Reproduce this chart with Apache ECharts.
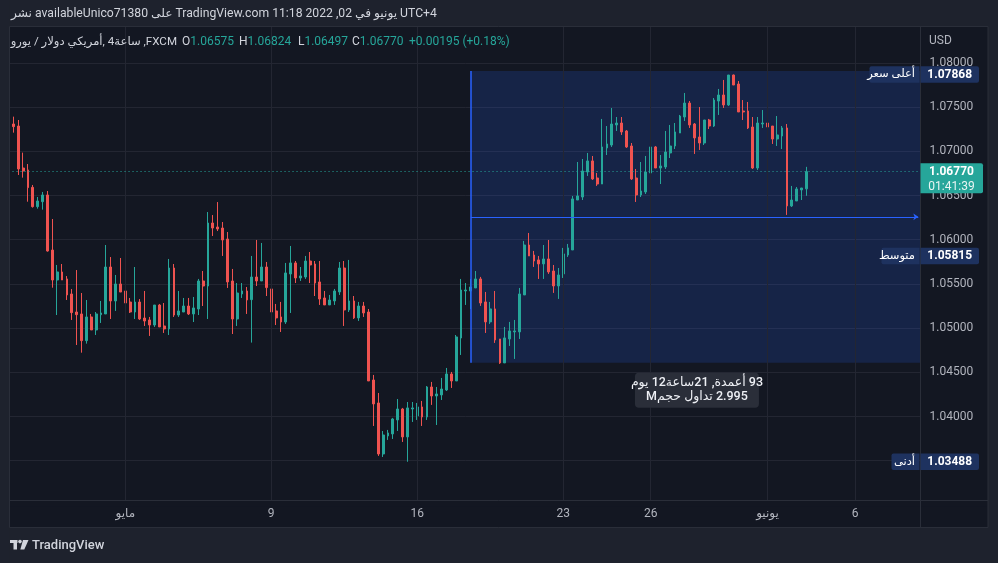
<!DOCTYPE html>
<html><head><meta charset="utf-8">
<script src="https://cdn.jsdelivr.net/npm/echarts@6/dist/echarts.min.js"></script>
<style>html,body{margin:0;padding:0;background:#1e222d}#c{width:998px;height:563px}</style>
</head><body><div id="c"></div><script>
const tradingDays = ['2022-04-26','2022-04-27','2022-04-28','2022-04-29',
 '2022-05-02','2022-05-03','2022-05-04','2022-05-05','2022-05-06',
 '2022-05-09','2022-05-10','2022-05-11','2022-05-12','2022-05-13',
 '2022-05-16','2022-05-17','2022-05-18','2022-05-19','2022-05-20',
 '2022-05-23','2022-05-24','2022-05-25','2022-05-26','2022-05-27',
 '2022-05-30','2022-05-31','2022-06-01','2022-06-02','2022-06-03',
 '2022-06-06','2022-06-07','2022-06-08'];
const sessionHours = ['01:00','05:00','09:00','13:00','17:00','21:00'];
const slotCount = 189;

const opens = [1.07109,1.07309,1.07286,1.06811,1.06789,1.06592,1.06374,1.06430,1.06506,1.05883,1.05544,1.05635,1.05556,1.05386,1.05182,1.05160,1.04858,1.05126,1.04979,1.05152,1.05160,1.05691,1.05307,1.05499,
 1.05420,1.05295,1.05182,1.05295,1.05114,1.05092,1.05035,1.05261,1.05024,1.04990,1.05680,1.05148,1.05182,1.05250,1.05160,1.05216,1.05533,1.05476,1.06189,1.06144,1.06132,1.06008,1.05533,1.05103,1.05386,1.05420,1.05322,1.05578,1.05533,1.05691,
 1.05443,1.05194,1.05126,1.05069,1.05612,1.05737,1.05567,1.05578,1.05759,1.05725,1.05522,1.05341,1.05262,1.05307,1.05409,1.05680,1.05205,1.05307,1.05115,1.05250,1.05182,1.04413,1.04153,1.03576,1.03780,1.03803,1.03961,1.04085,1.03769,1.04085,
 1.04006,1.04108,1.03995,1.04334,1.04232,1.04244,1.04300,1.04481,1.04402,1.04888,1.05420,1.05420,1.05454,1.05556,1.05296,1.05070,1.05217,1.04877,1.04606,1.04877,1.04957,1.04957,1.05375,1.05940,1.05827,1.05771,1.05726,1.05782,1.05646,1.05477,
 1.05613,1.05827,1.05884,1.06449,1.06483,1.06766,1.06891,1.06698,1.06630,1.07038,1.07071,1.07298,1.07320,1.07230,1.07060,1.06698,1.06506,1.06540,1.06755,1.07049,1.06811,1.06823,1.06981,1.07060,1.07207,1.07388,1.07546,1.07309,1.07162,1.07094,
 1.07354,1.07286,1.07569,1.07637,1.07524,1.07863,1.07761,1.07456,1.07456,1.07275,1.06811,1.07309,1.07320,1.07286,1.07139,1.07173,1.07264,1.06382,1.06438,1.06563,1.06575];
const closes = [1.07316,1.07279,1.06800,1.06777,1.06589,1.06374,1.06438,1.06506,1.05872,1.05544,1.05635,1.05544,1.05375,1.05175,1.05152,1.04858,1.05126,1.04979,1.05160,1.05171,1.05691,1.05307,1.05499,1.05408,
 1.05284,1.05182,1.05295,1.05103,1.05080,1.05035,1.05261,1.05013,1.04990,1.05680,1.05148,1.05194,1.05250,1.05160,1.05228,1.05533,1.05476,1.06189,1.06132,1.06121,1.05997,1.05522,1.05103,1.05397,1.05420,1.05318,1.05578,1.05533,1.05691,1.05458,
 1.05182,1.05115,1.05069,1.05624,1.05737,1.05567,1.05590,1.05759,1.05714,1.05510,1.05329,1.05262,1.05318,1.05420,1.05680,1.05205,1.05307,1.05115,1.05250,1.05171,1.04402,1.04142,1.03576,1.03791,1.03814,1.03972,1.04085,1.03769,1.04097,1.04097,
 1.04108,1.03995,1.04334,1.04232,1.04255,1.04311,1.04481,1.04402,1.04900,1.05431,1.05431,1.05465,1.05556,1.05284,1.05070,1.05217,1.04866,1.04606,1.04889,1.04968,1.04968,1.05386,1.05940,1.05816,1.05759,1.05726,1.05782,1.05635,1.05477,1.05601,
 1.05839,1.05907,1.06461,1.06495,1.06777,1.06891,1.06687,1.06630,1.07049,1.07083,1.07309,1.07320,1.07219,1.07049,1.06687,1.06506,1.06551,1.06766,1.07049,1.06811,1.06834,1.06992,1.07060,1.07219,1.07399,1.07546,1.07298,1.07151,1.07094,1.07354,
 1.07286,1.07580,1.07637,1.07524,1.07863,1.07750,1.07445,1.07445,1.07264,1.06811,1.07320,1.07320,1.07275,1.07139,1.07185,1.07264,1.06382,1.06449,1.06574,1.06585,1.06770];
const lows = [1.07100,1.07211,1.06732,1.06702,1.06430,1.06363,1.06351,1.06340,1.05865,1.05457,1.05148,1.05544,1.05318,1.05092,1.04809,1.04722,1.04824,1.04979,1.04922,1.05058,1.05160,1.05103,1.05194,1.05408,
 1.05273,1.05171,1.05103,1.05092,1.05024,1.04911,1.05013,1.05013,1.04945,1.04922,1.05126,1.05126,1.05182,1.05148,1.05069,1.05148,1.05250,1.05103,1.06042,1.06098,1.05816,1.05454,1.04933,1.05024,1.05341,1.05160,1.04836,1.05476,1.05533,1.05363,
 1.05182,1.05035,1.04956,1.05047,1.05171,1.05510,1.05533,1.05556,1.05510,1.05363,1.05262,1.05262,1.05262,1.05262,1.05375,1.05024,1.05182,1.05103,1.05081,1.05126,1.04402,1.03893,1.03554,1.03542,1.03735,1.03746,1.03836,1.03712,1.03488,1.03938,
 1.03961,1.03893,1.03961,1.04131,1.03904,1.04187,1.04289,1.04323,1.04402,1.04696,1.05262,1.05216,1.05454,1.05251,1.04945,1.05047,1.04832,1.04595,1.04606,1.04798,1.04651,1.04877,1.05375,1.05816,1.05692,1.05556,1.05556,1.05613,1.05398,1.05330,
 1.05567,1.05805,1.05884,1.06449,1.06449,1.06721,1.06676,1.06608,1.06630,1.06958,1.07049,1.07230,1.07185,1.07038,1.06676,1.06427,1.06483,1.06517,1.06732,1.06811,1.06630,1.06800,1.06924,1.07026,1.07207,1.07343,1.07264,1.06970,1.07015,1.07071,
 1.07252,1.07275,1.07411,1.07490,1.07513,1.07750,1.07445,1.07354,1.07252,1.06800,1.06789,1.07264,1.07275,1.07083,1.07060,1.07026,1.06280,1.06370,1.06438,1.06449,1.06497];
const highs = [1.07330,1.07392,1.07354,1.06985,1.06856,1.06619,1.06483,1.06540,1.06551,1.06234,1.05714,1.05725,1.05589,1.05442,1.05657,1.05397,1.05318,1.05160,1.05182,1.05307,1.05940,1.05804,1.05601,1.05793,
 1.05623,1.05341,1.05691,1.05329,1.05420,1.05126,1.05261,1.05273,1.05284,1.05782,1.05725,1.05420,1.05341,1.05341,1.05352,1.05556,1.05646,1.06313,1.06279,1.06426,1.06200,1.06087,1.05669,1.05510,1.05510,1.05465,1.05816,1.05997,1.05963,1.05748,
 1.05443,1.05273,1.05296,1.05737,1.05929,1.05759,1.05691,1.05816,1.05861,1.05759,1.05759,1.05420,1.05375,1.05443,1.05748,1.05759,1.05771,1.05363,1.05296,1.05296,1.05216,1.04470,1.04266,1.03836,1.03848,1.03984,1.04198,1.04097,1.04164,1.04164,
 1.04153,1.04176,1.04345,1.04391,1.04334,1.04436,1.04549,1.04504,1.04922,1.05556,1.05510,1.05556,1.05646,1.05579,1.05409,1.05296,1.05420,1.04877,1.05013,1.05070,1.05092,1.05454,1.05986,1.06076,1.05873,1.05816,1.05940,1.05997,1.05714,1.05680,
 1.05907,1.05952,1.06495,1.06879,1.06913,1.06981,1.06947,1.06755,1.07366,1.07286,1.07490,1.07388,1.07388,1.07241,1.07094,1.06800,1.06879,1.06947,1.07071,1.07060,1.06958,1.07230,1.07298,1.07320,1.07411,1.07660,1.07569,1.07320,1.07501,1.07354,
 1.07366,1.07603,1.07705,1.07807,1.07863,1.07868,1.07795,1.07580,1.07558,1.07388,1.07388,1.07467,1.07377,1.07286,1.07399,1.07286,1.07309,1.06608,1.06596,1.06585,1.06824];

const tickLabels = {'2022-05-02 01:00':'مايو','2022-05-09 01:00':'9','2022-05-16 01:00':'16','2022-05-23 01:00':'23','2022-05-26 01:00':'26','2022-06-01 01:00':'يونيو','2022-06-06 01:00':'6'};
const lastPrice = 1.06770, highMark = 1.07868, avgMark = 1.05815, lowMark = 1.03488;
const rangeStart = '2022-05-17 21:00', rangeEnd = '2022-06-08 09:00', rangeArrowEnd = '2022-06-08 05:00';
const boxTop = 1.07908, boxBottom = 1.04609;
// text runs, in their left-to-right order on screen
const headerRuns = ['نشر', ' availableUnico71380 ', 'على', ' TradingView.com 11:18 2022 ,02 ', 'في', ' ', 'يونيو', ' UTC+4'];
const titleRuns = ['يورو', ' / ', 'دولار', ' ', 'أمريكي', ', ', '4', 'ساعة', ' ,FXCM'];
const rangeLine1 = ['يوم', ' 12', 'ساعة', '21', ' ,', 'أعمدة', ' 93'];
const rangeLine2 = ['M', 'حجم', ' ', 'تداول', ' 2.995'];

const FONT = 'Roboto, "DejaVu Sans", sans-serif';
const categories = [];
tradingDays.forEach(d => sessionHours.forEach(h => categories.push(d + ' ' + h)));
categories.length = slotCount;
const labelIdx = new Set(Object.keys(tickLabels).map(k => categories.indexOf(k)));
const candles = opens.map((o, i) => [o, closes[i], lows[i], highs[i]]);
const boxMid = (boxTop + boxBottom) / 2;

const chart = echarts.init(document.getElementById('c'));
chart.setOption({
  backgroundColor: '#131722',
  animation: false,
  grid: {left: 6.1, right: 72.4, top: 18.7, bottom: 58.1},
  xAxis: {type: 'category', data: categories, boundaryGap: true,
    axisLine: {show: false}, axisTick: {show: false}, splitLine: {show: false},
    axisLabel: {interval: (i) => labelIdx.has(i), formatter: (v) => tickLabels[v] || '',
      color: '#b2b5be', fontSize: 12, margin: 3, fontFamily: FONT}},
  yAxis: {type: 'value', position: 'right', min: 1.03, max: 1.085, interval: 0.005,
    axisLine: {show: false}, axisTick: {show: false},
    axisLabel: {color: '#b2b5be', fontSize: 12, margin: 4, fontFamily: FONT,
      formatter: (v) => v.toFixed(5), showMinLabel: false, showMaxLabel: false},
    splitLine: {lineStyle: {color: '#232632', width: 1}}},
  series: [
    {type: 'line', data: [], z: 1, silent: true,
      markLine: {silent: true, symbol: 'none', label: {show: false},
        lineStyle: {color: '#232632', width: 1, type: 'solid'},
        data: Object.keys(tickLabels).map(c => ({xAxis: c}))},
      markArea: {silent: true, itemStyle: {color: 'rgba(41,98,255,0.17)'},
        data: [[{xAxis: rangeStart, yAxis: boxTop}, {xAxis: rangeEnd, yAxis: boxBottom}]]}},
    {type: 'candlestick', data: candles, barWidth: 2.3, z: 2,
      itemStyle: {color: '#26a69a', color0: '#ef5350', borderColor: '#26a69a', borderColor0: '#ef5350', borderWidth: 1}},
    {type: 'line', data: [], z: 3, silent: true,
      markLine: {silent: true, symbol: 'none', label: {show: false},
        data: [
          [{coord: [categories[0], lastPrice], lineStyle: {color: '#26a69a', width: 1, type: [1, 3]}},
           {coord: [categories[slotCount - 1], lastPrice]}],
          [{coord: [rangeStart, boxTop], lineStyle: {color: '#2962ff', width: 1.5, type: 'solid'}},
           {coord: [rangeStart, boxBottom]}],
          [{coord: [rangeStart, boxMid], lineStyle: {color: '#2962ff', width: 1, type: 'solid'}},
           {coord: [rangeArrowEnd, boxMid], symbol: 'arrow', symbolSize: 5}]
        ]}}
  ]
});

const py = (p) => chart.convertToPixel({yAxisIndex: 0}, p);
const px = (c) => chart.convertToPixel({xAxisIndex: 0}, c);
const G = [];
const outer = '#1e222d', border = '#2a2e39';
G.push({type: 'rect', z: 80, shape: {x: 921, y: 26, width: 7, height: 475}, style: {fill: '#131722'}});
G.push({type: 'rect', z: 80, shape: {x: 9, y: 501, width: 979, height: 5.5}, style: {fill: '#131722'}});
G.push({type: 'rect', z: 95, shape: {x: 0, y: 0, width: 998, height: 26.5}, style: {fill: outer}});
G.push({type: 'rect', z: 95, shape: {x: 0, y: 527.5, width: 998, height: 36}, style: {fill: outer}});
G.push({type: 'rect', z: 95, shape: {x: 0, y: 0, width: 9.5, height: 563}, style: {fill: outer}});
G.push({type: 'rect', z: 95, shape: {x: 988, y: 0, width: 10, height: 563}, style: {fill: outer}});
G.push({type: 'rect', z: 96, shape: {x: 9.5, y: 26.5, width: 978.5, height: 501}, style: {fill: null, stroke: border, lineWidth: 1}});
G.push({type: 'line', z: 90, shape: {x1: 920.5, y1: 26.5, x2: 920.5, y2: 527.5}, style: {stroke: border, lineWidth: 1}});
G.push({type: 'line', z: 90, shape: {x1: 9.5, y1: 500.5, x2: 988, y2: 500.5}, style: {stroke: border, lineWidth: 1}});

function ptxt(x, y, text, color, size, opts, z) {
  return {type: 'text', z: z || 97, style: Object.assign({x, y, text, fill: color, fontSize: size, fontFamily: FONT,
    fontWeight: 'normal', align: 'left', textAlign: 'left', verticalAlign: 'middle', textVerticalAlign: 'middle'}, opts || {})};
}
function rtxt(x, y, text, rich, z) {
  return {type: 'text', z: z || 97, style: {x, y, text, rich, align: 'left', textAlign: 'left', verticalAlign: 'middle', textVerticalAlign: 'middle'}};
}
const rs = (color, size) => ({fill: color, color, fontSize: size, fontFamily: FONT});
// each run is its own text element, laid side by side
const mctx = document.createElement('canvas').getContext('2d');
function placeRuns(runList, x, y, anchor, color, size, weight, z) {
  mctx.font = (weight || 'normal') + ' ' + size + 'px ' + FONT;
  const widths = runList.map(r => mctx.measureText(r).width);
  const total = widths.reduce((a, b) => a + b, 0);
  let cur = anchor === 'right' ? x - total : anchor === 'center' ? x - total / 2 : x;
  runList.forEach((r, i) => {
    G.push(ptxt(cur, y, r, color, size, {fontWeight: weight || 'normal'}, z));
    cur += widths[i];
  });
}

placeRuns(headerRuns, 11, 14, 'left', '#d1d4dc', 12.2);
placeRuns(titleRuns, 177, 42, 'right', '#d1d4dc', 11.6);
const legendGroups = [[182, 'O', '1.06575'], [239, 'H', '1.06824'], [298, 'L', '1.06497'], [352, 'C', '1.06770']];
legendGroups.forEach(g => G.push(rtxt(g[0], 42, '{k|' + g[1] + '}{v|' + g[2] + '}', {k: rs('#d1d4dc', 12), v: rs('#26a69a', 12)})));
G.push(ptxt(409, 42, '+0.00195 (+0.18%)', '#26a69a', 12));
G.push(ptxt(929, 41, 'USD', '#b2b5be', 12));
// logo
G.push({type: 'rect', z: 97, shape: {x: 10, y: 540, width: 7.5, height: 3}, style: {fill: '#d1d4dc'}});
G.push({type: 'rect', z: 97, shape: {x: 13.5, y: 540, width: 3.5, height: 9.5}, style: {fill: '#d1d4dc'}});
G.push({type: 'circle', z: 97, shape: {cx: 20, cy: 541.6, r: 1.8}, style: {fill: '#d1d4dc'}});
G.push({type: 'polygon', z: 97, shape: {points: [[23, 540], [28.5, 540], [24.3, 549.5], [20.3, 549.5]]}, style: {fill: '#d1d4dc'}});
G.push(ptxt(32, 545.5, 'TradingView', '#d1d4dc', 13, {fontWeight: 500}));

function tag(price, name, nameW) {
  const y = py(price), h = 16.6, c = '#1e325f';
  G.push({type: 'rect', z: 100, shape: {x: 920.5, y: y - h / 2, width: 58.5, height: h, r: [0, 2, 2, 0]}, style: {fill: c}});
  G.push(ptxt(949.7, y, price.toFixed(5), '#ffffff', 12, {fontWeight: 'bold', align: 'center', textAlign: 'center'}, 101));
  G.push({type: 'rect', z: 100, shape: {x: 919.5 - nameW, y: y - h / 2, width: nameW, height: h, r: [2, 0, 0, 2]}, style: {fill: c}});
  G.push(ptxt(915, y, name, '#ffffff', 11.5, {align: 'right', textAlign: 'right'}, 101));
}
tag(highMark, 'أعلى سعر', 50);
tag(avgMark, 'متوسط', 38);
tag(lowMark, 'أدنى', 28);
const yc = py(lastPrice);
G.push({type: 'rect', z: 100, shape: {x: 920.5, y: yc - 8.3, width: 62.5, height: 30, r: [0, 2, 2, 0]}, style: {fill: '#26a69a'}});
G.push(ptxt(951.5, yc, lastPrice.toFixed(5), '#ffffff', 12, {fontWeight: 'bold', align: 'center', textAlign: 'center'}, 101));
G.push(ptxt(951.5, yc + 15, '01:41:39', '#e8f5f3', 12, {align: 'center', textAlign: 'center'}, 101));

const cx = (px(rangeStart) + px(rangeEnd)) / 2, ty = py(boxBottom) + 10;
G.push({type: 'rect', z: 100, shape: {x: cx - 62, y: ty, width: 124, height: 35, r: 4}, style: {fill: '#2a2e39'}});
placeRuns(rangeLine1, cx, ty + 10.5, 'center', '#eef0f5', 12.5, 500, 101);
placeRuns(rangeLine2, cx, ty + 24.5, 'center', '#eef0f5', 12.5, 500, 101);
chart.setOption({graphic: G});
</script></body></html>
